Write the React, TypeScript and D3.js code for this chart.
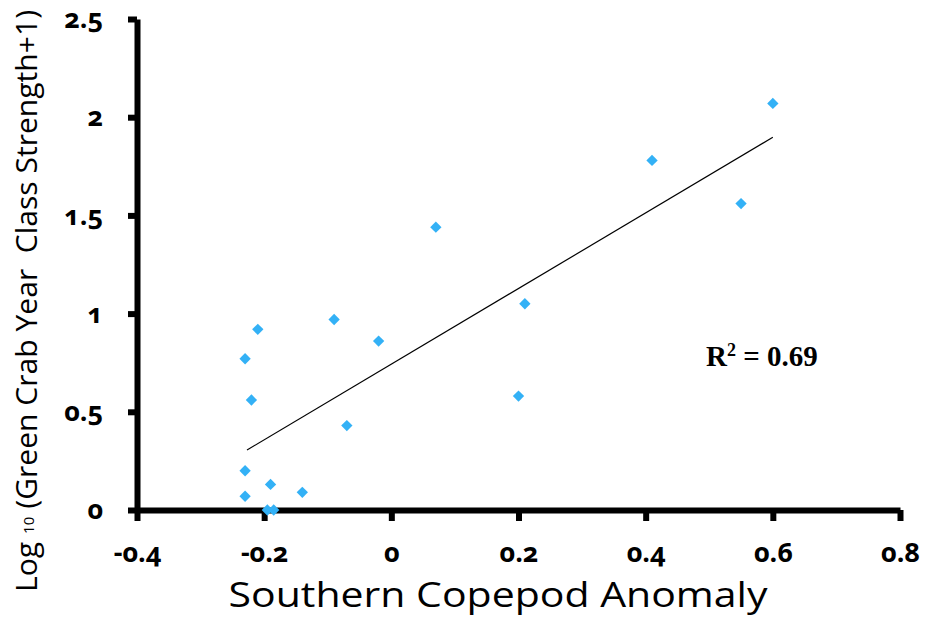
import React, { useEffect, useRef } from "react";
import * as d3 from "d3";

const copepodAnomaly = [0.60, 0.41, 0.55, 0.07, 0.21, 0.20, -0.09, -0.02, -0.07, -0.21, -0.23, -0.22, -0.23, -0.23, -0.19, -0.14, -0.195, -0.185];
const crabStrength = [2.07, 1.78, 1.56, 1.44, 1.05, 0.58, 0.97, 0.86, 0.43, 0.92, 0.77, 0.56, 0.20, 0.07, 0.13, 0.09, 0.0, 0.0];
const xTicks = [-0.4, -0.2, 0, 0.2, 0.4, 0.6, 0.8];
const xTickLabels = ["-0.4", "-0.2", "0", "0.2", "0.4", "0.6", "0.8"];
const yTicks = [0, 0.5, 1, 1.5, 2, 2.5];
const yTickLabels = ["0", "0.5", "1", "1.5", "2", "2.5"];
const trendRange = [-0.227, 0.6];
const trendSlope = 1.9256;
const trendIntercept = 0.7426;

const W = 927;
const H = 618;
const SANS = "'Open Sans', 'Noto Sans', sans-serif";

export default function App() {
  const gx = useRef<SVGGElement>(null);
  const gy = useRef<SVGGElement>(null);

  const x = d3.scaleLinear().domain([-0.4, 0.8]).range([137, 900]);
  const y = d3.scaleLinear().domain([0, 2.5]).range([510, 19]);

  useEffect(() => {
    const ax = d3
      .axisBottom(x)
      .tickValues(xTicks)
      .tickSizeInner(11)
      .tickSizeOuter(0)
      .tickPadding(22)
      .tickFormat((_d, i) => xTickLabels[i]);
    const ay = d3
      .axisLeft(y)
      .tickValues(yTicks)
      .tickSizeInner(9)
      .tickSizeOuter(0)
      .tickPadding(25)
      .tickFormat((_d, i) => yTickLabels[i]);
    const sx = d3.select(gx.current!);
    sx.call(ax as any);
    const sy = d3.select(gy.current!);
    sy.call(ay as any);
    [sx, sy].forEach((s) => {
      s.select(".domain").attr("stroke", "#000").attr("stroke-width", 6);
      s.selectAll(".tick line").attr("stroke", "#000").attr("stroke-width", 6);
      s.selectAll(".tick text")
        .attr("fill", "#000")
        .style("font-family", SANS)
        .style("font-weight", "700")
        .style("font-size", "27px")
        .style("font-variant-numeric", "oldstyle-nums");
    });
  }, []);

  const diamond = d3.symbol().type(d3.symbolSquare).size(64)()!;
  const line = d3
    .line<number>()
    .x((d) => x(d))
    .y((d) => y(trendSlope * d + trendIntercept));

  return (
    <svg
      width={W}
      height={H}
      style={{ position: "absolute", left: 0, top: 0, background: "#fff" }}
    >
      <rect width={W} height={H} fill="#fff" />
      <g ref={gx} transform={`translate(0,${y(0)})`} />
      <g ref={gy} transform={`translate(${x(-0.4)},0)`} />
      <path d={line(trendRange)!} stroke="#000" strokeWidth={1.2} fill="none" />
      {copepodAnomaly.map((v, i) => (
        <path
          key={i}
          d={diamond}
          transform={`translate(${x(v)},${y(crabStrength[i])}) rotate(45)`}
          fill="#33b1f6"
        />
      ))}
      <text
        x={498}
        y={607}
        textAnchor="middle"
        fontFamily={SANS}
        fontSize={35}
        textLength={539}
        lengthAdjust="spacingAndGlyphs"
      >
        Southern Copepod Anomaly
      </text>
      <text
        transform="translate(37,301) rotate(-90)"
        textAnchor="middle"
        fontFamily={SANS}
        fontSize={30}
        textLength={582}
        lengthAdjust="spacingAndGlyphs"
        style={{ whiteSpace: "pre" }}
      >
        {"Log"}
        <tspan fontSize={15} dx={8} dy={-3}>
          {"10"}
        </tspan>
        <tspan dx={8} dy={3}>{"(Green Crab Year  Class Strength+1)"}</tspan>
      </text>
      <text
        x={706}
        y={366}
        fontFamily="'Liberation Serif', 'Times New Roman', serif"
        fontWeight={700}
        fontSize={29}
        style={{ whiteSpace: "pre" }}
      >
        {"R"}
        <tspan fontSize={18} dy={-10}>
          {"2"}
        </tspan>
        <tspan dy={10}>{" = 0.69"}</tspan>
      </text>
    </svg>
  );
}
